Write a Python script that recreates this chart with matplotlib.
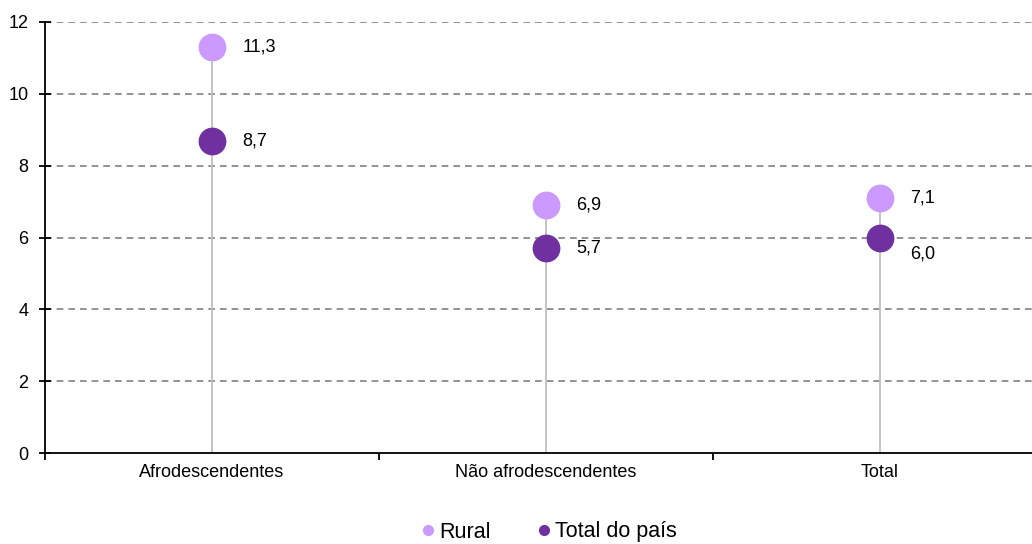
import matplotlib.pyplot as plt
import numpy as np

plt.rcParams['font.family'] = ['Liberation Sans', 'DejaVu Sans']

categories = ['Afrodescendentes', 'Não afrodescendentes', 'Total']
rural = [11.3, 6.9, 7.1]
total_pais = [8.7, 5.7, 6.0]

c_rural = '#CC99FF'
c_total = '#7030A0'

fig = plt.figure(figsize=(10.32, 5.44), dpi=100)
ax = fig.add_axes([45 / 1032, 91 / 544, 1002 / 1032, 431 / 544])

x = np.arange(len(categories))
top = np.maximum(rural, total_pais)
ax.vlines(x, 0, top, color='#BFBFBF', lw=1.3, zorder=2)
ax.plot(x, rural, 'o', ms=19, color=c_rural, zorder=3, label='Rural')
ax.plot(x, total_pais, 'o', ms=19, color=c_total, zorder=4, label='Total do país')

def fmt(v):
    return f'{v:.1f}'.replace('.', ',')

for i in range(len(x)):
    ax.annotate(fmt(rural[i]), (x[i], rural[i]), xytext=(22, 0), textcoords='offset points',
                va='center', fontsize=13)
    # the last pair sits close together, so its lower label drops a little
    dy = -12 if i == 2 else 0
    ax.annotate(fmt(total_pais[i]), (x[i], total_pais[i]), xytext=(22, dy), textcoords='offset points',
                va='center', fontsize=13)

ax.set_ylim(0, 12)
ax.set_yticks(range(0, 13, 2))
ax.set_xlim(-0.5, 2.5)
ax.set_xticks(x)
ax.set_xticklabels(categories)
ax.set_xticks([-0.5, 0.5, 1.5, 2.5], minor=True)
ax.tick_params(axis='x', which='major', length=0, labelsize=13, pad=8)
ax.tick_params(axis='x', which='minor', length=5, width=1.3, direction='out')
ax.tick_params(axis='y', length=8, width=1.3, labelsize=13, pad=8, direction='inout')

for yv in range(2, 13, 2):
    ax.axhline(yv, color='#808080', lw=1.2, ls=(0, (4, 3)), zorder=1)

for s in ['top', 'right']:
    ax.spines[s].set_visible(False)
ax.spines['left'].set_linewidth(1.3)
ax.spines['bottom'].set_linewidth(1.3)

h1 = plt.Line2D([], [], marker='o', ls='', ms=7, color=c_rural)
h2 = plt.Line2D([], [], marker='o', ls='', ms=7, color=c_total)
fig.legend([h1, h2], ['Rural', 'Total do país'], loc='center', bbox_to_anchor=(546 / 1032, 12 / 544),
           ncol=2, frameon=False, fontsize=15.5, handletextpad=-0.1, columnspacing=1.9, handlelength=1.2,
           borderpad=0.1)

fig.savefig('out.png', dpi=100)
